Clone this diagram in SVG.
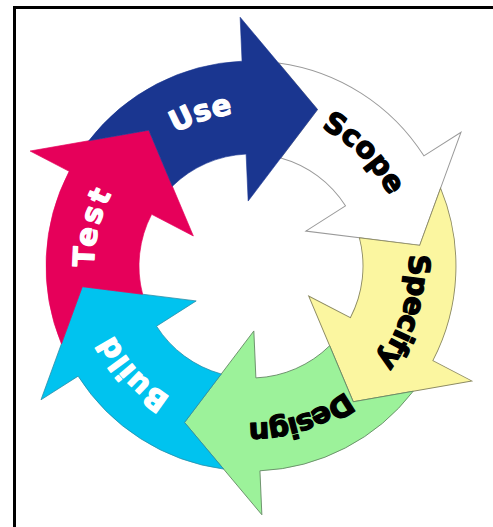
<svg xmlns="http://www.w3.org/2000/svg" xmlns:xlink="http://www.w3.org/1999/xlink" width="493" height="527" viewBox="0 0 493 527">
  <style>
    .lbl { font-family: "DejaVu Sans", "Liberation Sans", sans-serif; font-weight: bold; font-size: 29px; text-anchor: middle; stroke-width: 1.3; stroke-linejoin: round; }
    .w { fill: #ffffff; stroke: #ffffff; }
    .k { fill: #000000; stroke: #000000; }
    .use { fill: #1a3690; stroke: #1a3690; stroke-width: 0.6; }
    .scope { fill: #ffffff; stroke: #9a9a9a; stroke-width: 1; }
    .specify { fill: #fbf6a0; stroke: #8c8a62; stroke-width: 0.9; }
    .design { fill: #9cf29a; stroke: #668a66; stroke-width: 0.9; }
    .build { fill: #00c3ef; stroke: #2a8ca6; stroke-width: 0.7; }
    .test { fill: #e6005a; stroke: #e6005a; stroke-width: 0.6; }
  </style>
  <defs>
    <path id="arrow" d="M132.2,-156.6 A205,205 0 0 1 205,0 L249,0 L153.4,73.2 L65,0 L112,0 A112,112 0 0 0 83.1,-75.1 L140.1,-96.2 Z"/>
    <path id="r153" d="M52.33,-143.77 A153,153 0 0 1 52.33,143.77" fill="none"/>
    <path id="r154" d="M52.67,-144.71 A154,154 0 0 1 52.67,144.71" fill="none"/>
    <path id="r155" d="M53.01,-145.65 A155,155 0 0 1 53.01,145.65" fill="none"/>
    <path id="r157" d="M53.69,-147.53 A157,157 0 0 1 53.69,147.53" fill="none"/>
    <path id="r158" d="M54.04,-148.47 A158,158 0 0 1 54.04,148.47" fill="none"/>
  </defs>
  <rect x="0" y="0" width="493" height="527" fill="#ffffff"/>
  <path d="M14.5,527 V7.5 H493" fill="none" stroke="#000000" stroke-width="3"/>

  <g id="connectors"></g>

  <g id="scope" transform="translate(251,266) rotate(-32.5)">
    <use xlink:href="#arrow" href="#arrow" class="scope"/>
    <text class="lbl k" transform="rotate(-12.5)"><textPath xlink:href="#r155" href="#r155" startOffset="50%" textLength="98" lengthAdjust="spacing">Scope</textPath></text>
  </g>
  <g id="specify" transform="translate(251,266) rotate(27.5)">
    <use xlink:href="#arrow" href="#arrow" class="specify"/>
    <text class="lbl k" transform="rotate(-10.9)"><textPath xlink:href="#r158" href="#r158" startOffset="50%" textLength="114" lengthAdjust="spacing">Specify</textPath></text>
  </g>
  <g id="design" transform="translate(251,266) rotate(87.5)">
    <use xlink:href="#arrow" href="#arrow" class="design"/>
    <text class="lbl k" transform="rotate(-15.5)"><textPath xlink:href="#r157" href="#r157" startOffset="50%" textLength="104" lengthAdjust="spacing">Design</textPath></text>
  </g>
  <g id="build" transform="translate(251,266) rotate(147.5)">
    <use xlink:href="#arrow" href="#arrow" class="build"/>
    <text class="lbl w" transform="rotate(-10)"><textPath xlink:href="#r154" href="#r154" startOffset="50%" textLength="86" lengthAdjust="spacing">Build</textPath></text>
  </g>
  <g id="test" transform="translate(251,266) rotate(207.5)">
    <use xlink:href="#arrow" href="#arrow" class="test"/>
    <text class="lbl w" transform="rotate(-14)"><textPath xlink:href="#r157" href="#r157" startOffset="50%" textLength="76" lengthAdjust="spacing">Test</textPath></text>
  </g>
  <g id="use" transform="translate(251,266) rotate(-92.5)">
    <use xlink:href="#arrow" href="#arrow" class="use"/>
    <text class="lbl w" transform="rotate(-15.8)"><textPath xlink:href="#r153" href="#r153" startOffset="50%" textLength="61" lengthAdjust="spacing">Use</textPath></text>
  </g>
</svg>
